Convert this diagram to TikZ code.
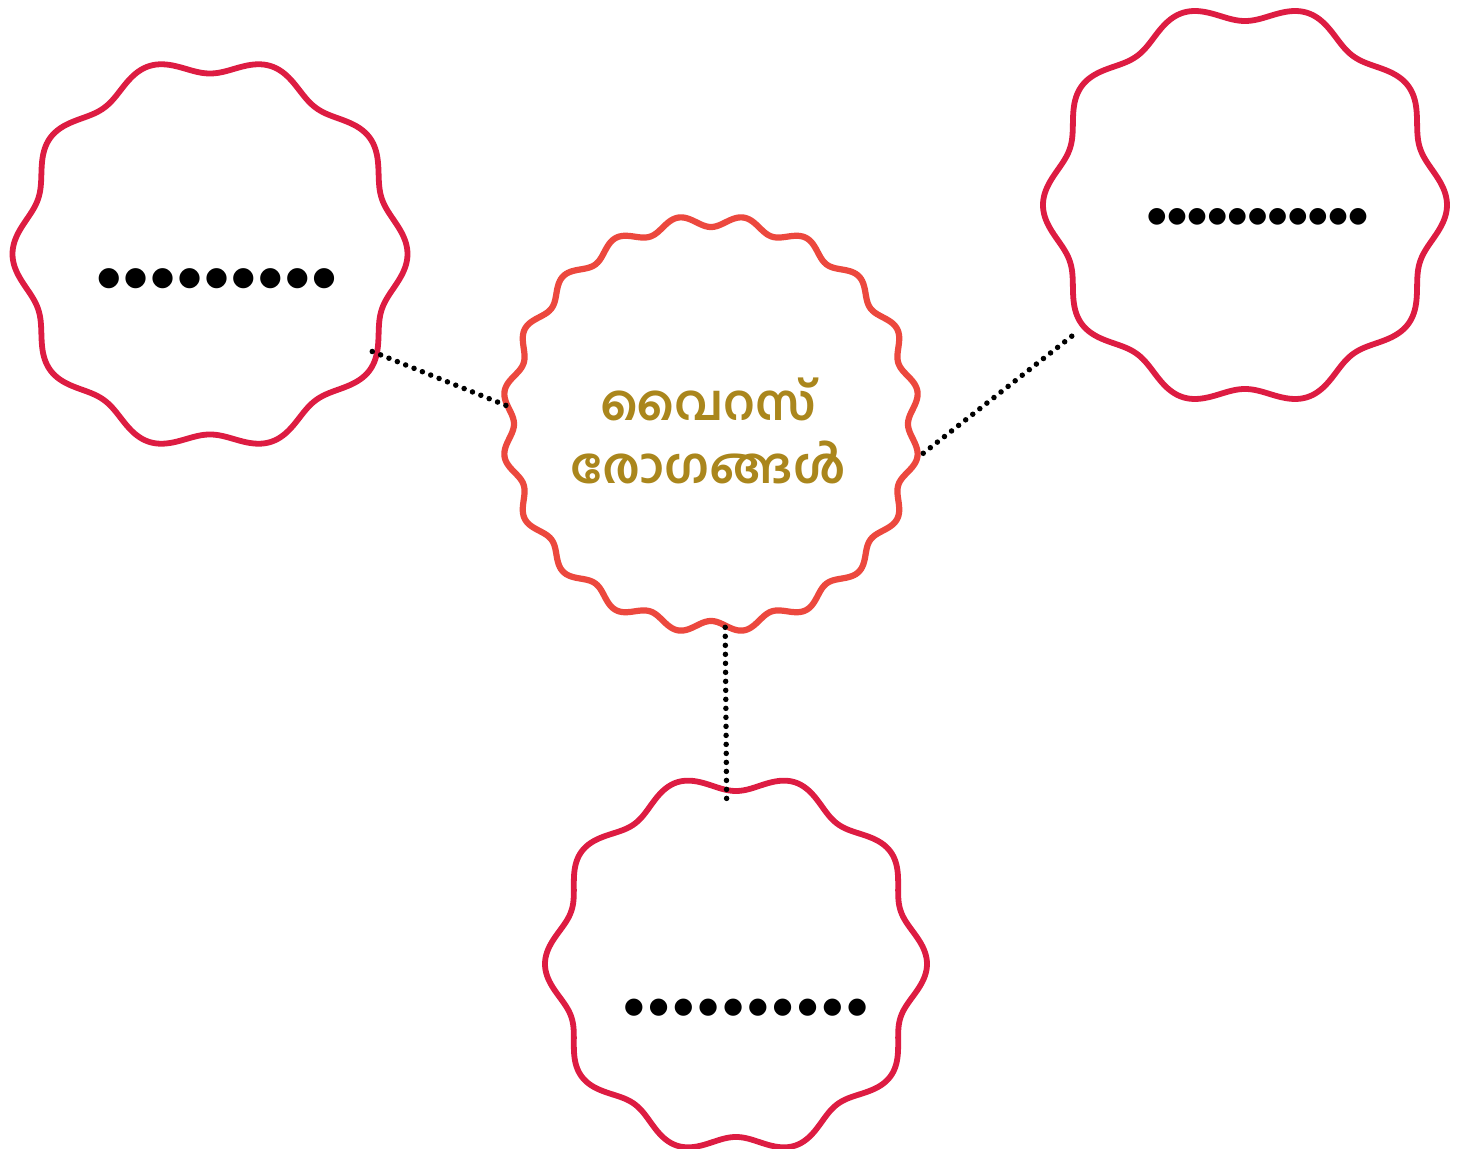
\documentclass[tikz,border=0pt]{standalone}
\usepackage{fontspec}
\newfontfamily\malfont[Script=Malayalam]{Hind Kochi}
\newfontfamily\symfont{DejaVu Sans}
\definecolor{ringred}{RGB}{221,28,66}
\definecolor{ringorange}{RGB}{236,72,62}
\definecolor{textgold}{RGB}{170,134,28}
\newcommand\dotrow[2]{\foreach \k in {1,...,#1}{\makebox[#2]{●}}}
\tikzset{
  holder/.style={circle, draw=none, inner sep=0pt},
  ringA/.style={draw=ringred, line width=0.058cm, line join=round},
  ringB/.style={draw=ringorange, line width=0.062cm, line join=round},
  blank/.style={inner sep=0pt, text=black},
  link/.style={draw=black, line width=0.055cm, line cap=round, dash pattern=on 0pt off 0.09cm},
  title/.style={text=textgold, align=center, inner sep=0pt}
}
\begin{document}
\begin{tikzpicture}[x=0.01cm, y=-0.01cm]
\fill[white] (0,0) rectangle (1459,1149);
\useasboundingbox (0,0) rectangle (1459,1149);
% holders
\node[holder, minimum size=3.77cm] (L) at (210,254) {};
\node[holder, minimum size=3.84cm] (R) at (1245,205) {};
\node[holder, minimum size=3.62cm] (B) at (736,964) {};
\node[holder, minimum size=4.06cm] (C) at (711,424) {};
% outlines
\draw[ringA, shift={(L.center)}] plot[domain=0:360, samples=721, variable=\t]
  ({(189+8.5*cos(10*\t))*cos(\t)}, {(189+8.5*cos(10*\t))*sin(\t)}) -- cycle;
\draw[ringA, shift={(R.center)}] plot[domain=0:360, samples=721, variable=\t]
  ({(193+9*cos(10*\t))*cos(\t)}, {(193+9*cos(10*\t))*sin(\t)}) -- cycle;
\draw[ringA, shift={(B.center)}] plot[domain=0:360, samples=721, variable=\t]
  ({(182+9*cos(10*\t))*cos(\t)}, {(182+9*cos(10*\t))*sin(\t)}) -- cycle;
\draw[ringB, shift={(C.center)}] plot[domain=0:360, samples=721, variable=\t]
  ({(203-6*cos(20*\t))*cos(\t)}, {(203-6*cos(20*\t))*sin(\t)}) -- cycle;
% texts
\node[blank, font=\symfont\fontsize{7.5}{9}\selectfont] (Lt) at (216.5,279) {\dotrow{9}{0.269cm}};
\node[blank, font=\symfont\fontsize{6.2}{8}\selectfont] (Rt) at (1257.5,217) {\dotrow{11}{0.201cm}};
\node[blank, font=\symfont\fontsize{6.4}{8}\selectfont] (Bt) at (745.5,1008) {\dotrow{10}{0.248cm}};
\node[title, font=\malfont\bfseries\fontsize{14}{17.9}\selectfont] (Ct) at (708,431) {വൈറസ്\\രോഗങ്ങൾ};
% connectors
\draw[link] (L.-31) -- (C.175);
\draw[link, shorten <=0.155cm, shorten >=0.178cm] (C.-11.5) -- (R.217.2);
\draw[link, shorten >=-0.17cm] (C.-86) -- (B.93);
\end{tikzpicture}
\end{document}
